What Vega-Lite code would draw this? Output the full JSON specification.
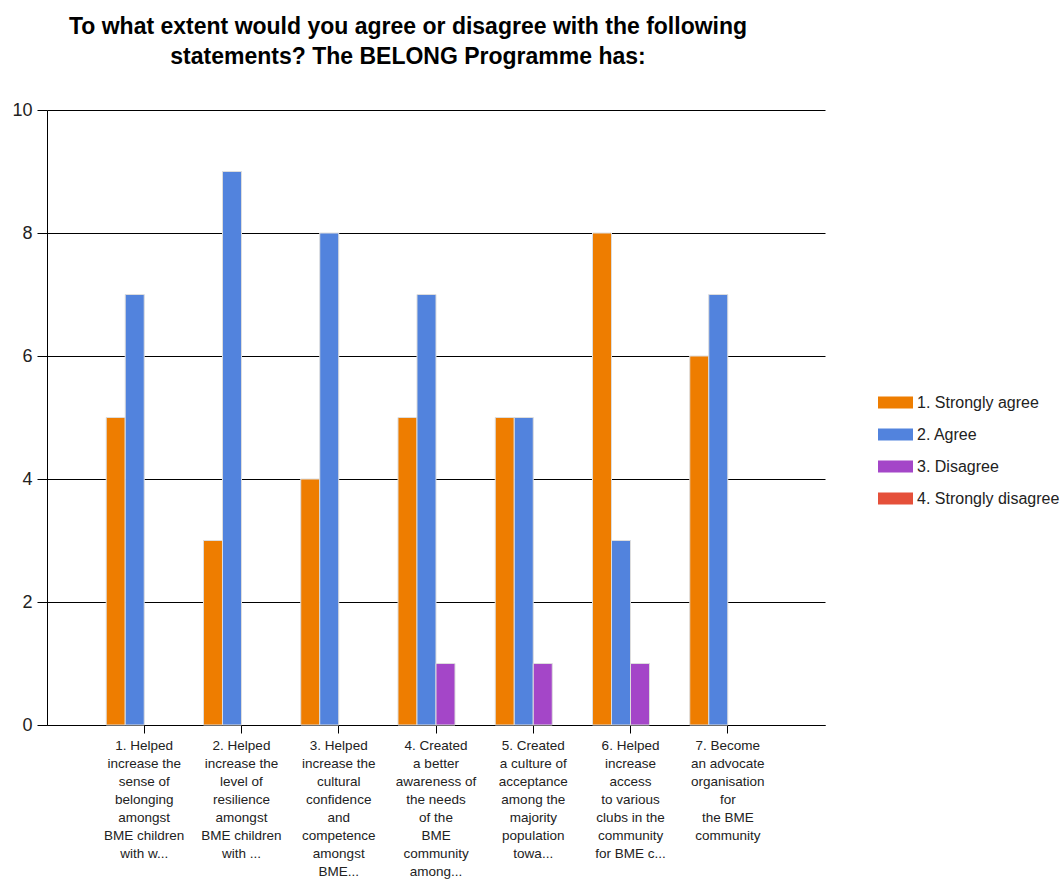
{
  "$schema": "https://vega.github.io/schema/vega-lite/v6.json",
  "autosize": "none",
  "width": 778,
  "height": 615,
  "padding": {"left": 47, "top": 110, "right": 237, "bottom": 155},
  "background": "white",
  "title": {
    "text": ["To what extent would you agree or disagree with the following", "statements? The BELONG Programme has:"],
    "font": "Liberation Sans",
    "fontSize": 23,
    "fontWeight": "bold",
    "color": "#000000",
    "anchor": "middle",
    "lineHeight": 30,
    "offset": 32,
    "dx": -28
  },
  "data": {
    "values": [
      {"statement": "1. Helped|increase the|sense of|belonging|amongst|BME children|with w...", "response": "1. Strongly agree", "count": 5},
      {"statement": "1. Helped|increase the|sense of|belonging|amongst|BME children|with w...", "response": "2. Agree", "count": 7},
      {"statement": "1. Helped|increase the|sense of|belonging|amongst|BME children|with w...", "response": "3. Disagree", "count": 0},
      {"statement": "1. Helped|increase the|sense of|belonging|amongst|BME children|with w...", "response": "4. Strongly disagree", "count": 0},
      {"statement": "2. Helped|increase the|level of|resilience|amongst|BME children|with ...", "response": "1. Strongly agree", "count": 3},
      {"statement": "2. Helped|increase the|level of|resilience|amongst|BME children|with ...", "response": "2. Agree", "count": 9},
      {"statement": "2. Helped|increase the|level of|resilience|amongst|BME children|with ...", "response": "3. Disagree", "count": 0},
      {"statement": "2. Helped|increase the|level of|resilience|amongst|BME children|with ...", "response": "4. Strongly disagree", "count": 0},
      {"statement": "3. Helped|increase the|cultural|confidence|and|competence|amongst|BME...", "response": "1. Strongly agree", "count": 4},
      {"statement": "3. Helped|increase the|cultural|confidence|and|competence|amongst|BME...", "response": "2. Agree", "count": 8},
      {"statement": "3. Helped|increase the|cultural|confidence|and|competence|amongst|BME...", "response": "3. Disagree", "count": 0},
      {"statement": "3. Helped|increase the|cultural|confidence|and|competence|amongst|BME...", "response": "4. Strongly disagree", "count": 0},
      {"statement": "4. Created|a better|awareness of|the needs|of the|BME|community|among...", "response": "1. Strongly agree", "count": 5},
      {"statement": "4. Created|a better|awareness of|the needs|of the|BME|community|among...", "response": "2. Agree", "count": 7},
      {"statement": "4. Created|a better|awareness of|the needs|of the|BME|community|among...", "response": "3. Disagree", "count": 1},
      {"statement": "4. Created|a better|awareness of|the needs|of the|BME|community|among...", "response": "4. Strongly disagree", "count": 0},
      {"statement": "5. Created|a culture of|acceptance|among the|majority|population|towa...", "response": "1. Strongly agree", "count": 5},
      {"statement": "5. Created|a culture of|acceptance|among the|majority|population|towa...", "response": "2. Agree", "count": 5},
      {"statement": "5. Created|a culture of|acceptance|among the|majority|population|towa...", "response": "3. Disagree", "count": 1},
      {"statement": "5. Created|a culture of|acceptance|among the|majority|population|towa...", "response": "4. Strongly disagree", "count": 0},
      {"statement": "6. Helped|increase|access|to various|clubs in the|community|for BME c...", "response": "1. Strongly agree", "count": 8},
      {"statement": "6. Helped|increase|access|to various|clubs in the|community|for BME c...", "response": "2. Agree", "count": 3},
      {"statement": "6. Helped|increase|access|to various|clubs in the|community|for BME c...", "response": "3. Disagree", "count": 1},
      {"statement": "6. Helped|increase|access|to various|clubs in the|community|for BME c...", "response": "4. Strongly disagree", "count": 0},
      {"statement": "7. Become|an advocate|organisation|for|the BME|community", "response": "1. Strongly agree", "count": 6},
      {"statement": "7. Become|an advocate|organisation|for|the BME|community", "response": "2. Agree", "count": 7},
      {"statement": "7. Become|an advocate|organisation|for|the BME|community", "response": "3. Disagree", "count": 0},
      {"statement": "7. Become|an advocate|organisation|for|the BME|community", "response": "4. Strongly disagree", "count": 0}
    ]
  },
  "transform": [{"filter": "datum.count > 0"}],
  "mark": {"type": "bar", "stroke": "#dddddd", "strokeWidth": 1},
  "encoding": {
    "x": {
      "field": "statement",
      "type": "nominal",
      "sort": null,
      "scale": {"paddingInner": 0.2185, "paddingOuter": 0.609},
      "axis": {
        "title": null,
        "labelAngle": 0,
        "labelExpr": "split(datum.value, '|')",
        "labelFont": "Liberation Sans",
        "labelFontSize": 13.5,
        "labelLineHeight": 18,
        "labelColor": "#222222",
        "labelBaseline": "top",
        "labelPadding": 5,
        "labelLimit": 0,
        "tickColor": "#000000",
        "tickSize": 8,
        "domainColor": "#000000",
        "domainWidth": 1,
        "grid": false
      }
    },
    "xOffset": {
      "field": "response",
      "type": "nominal",
      "scale": {"domain": ["1. Strongly agree", "2. Agree", "3. Disagree", "4. Strongly disagree"], "paddingInner": 0}
    },
    "y": {
      "field": "count",
      "type": "quantitative",
      "scale": {"domain": [0, 10], "nice": false},
      "axis": {
        "title": null,
        "values": [0, 2, 4, 6, 8, 10],
        "labelFont": "Liberation Sans",
        "labelFontSize": 18,
        "labelColor": "#222222",
        "labelPadding": 5,
        "tickSize": 10,
        "tickColor": "#000000",
        "domainColor": "#000000",
        "grid": true,
        "gridColor": "#000000",
        "gridOpacity": 1,
        "gridWidth": 1
      }
    },
    "color": {
      "field": "response",
      "type": "nominal",
      "scale": {
        "domain": ["1. Strongly agree", "2. Agree", "3. Disagree", "4. Strongly disagree"],
        "range": ["#EE7D00", "#5283DD", "#A446C8", "#E5503A"]
      },
      "legend": {
        "title": null,
        "orient": "none",
        "legendX": 831,
        "legendY": 275,
        "symbolType": "M-1,-0.343H1V0.343H-1Z",
        "symbolSize": 1225,
        "symbolStrokeWidth": 0,
        "labelFont": "Liberation Sans",
        "labelFontSize": 16,
        "labelColor": "#222222",
        "labelOffset": 4,
        "rowPadding": 6,
        "labelLimit": 0
      }
    }
  },
  "config": {"view": {"stroke": null}}
}
